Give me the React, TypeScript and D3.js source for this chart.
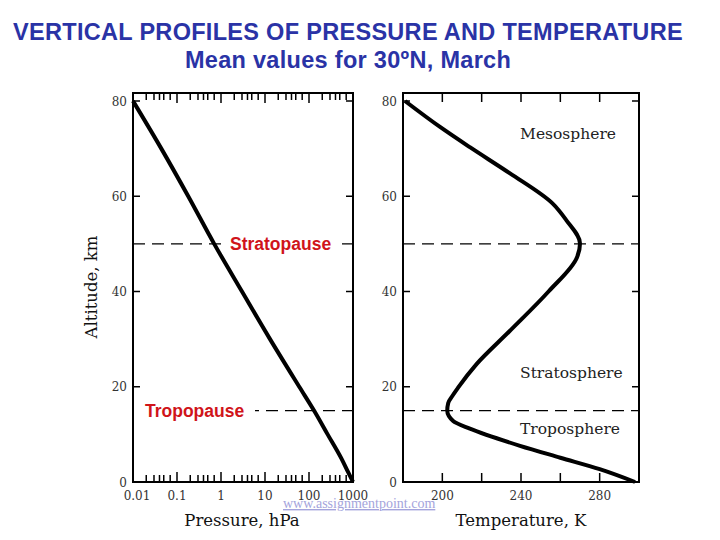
import { curveMonotoneY, line, scaleLinear, scaleLog } from "d3";

// Titles
const titleLine1 = "VERTICAL PROFILES OF PRESSURE AND TEMPERATURE";
const titleLine2 = "Mean values for 30ºN, March";

// Axes
const altTicks = [0, 20, 40, 60, 80];
const pressureTicks = [0.01, 0.1, 1, 10, 100, 1000];
const pressureTickLabels = ["0.01", "0.1", "1", "10", "100", "1000"];
const pressureMinorSteps = [2, 3, 4, 5, 7];
const tempTicks = [200, 220, 240, 260, 280];
const tempLabelTicks = [200, 240, 280];

// Pressure profile (km, hPa)
const pressureAlt = [0, 2, 5, 10, 15, 20, 30, 40, 50, 60, 70, 80];
const pressureHpa = [1000, 780, 540, 265, 130, 60, 13, 3.0, 0.7, 0.18, 0.044, 0.01];

// Temperature profile (km, K)
const tempAlt = [0, 2.7, 5.1, 7.6, 11.2, 12.8, 15, 16.6, 18, 19.8, 24.8, 31.6, 40, 47.2, 50.1, 55, 58.5, 64.8, 70.3, 74.5, 80];
const tempK = [298, 280, 260, 239.5, 214, 205.5, 202.5, 203, 205, 208, 217.5, 234, 254, 268.5, 270, 263, 256, 234.4, 214, 199, 181];

// Pause levels and layer names
const pauseNames = ["Stratopause", "Tropopause"];
const pauseAlt = [50, 15];
const layerNames = ["Mesosphere", "Stratosphere", "Troposphere"];
const layerAlt = [72, 21.8, 10.1];

const BLUE = "#2a33a6";
const RED = "#d0141a";
const SERIF = "'DejaVu Serif', 'Liberation Serif', serif";
const SANS = "'Liberation Sans', Arial, sans-serif";

type Pt = { alt: number; v: number };

export default function App() {
    const width = 720;
    const height = 540;
    const top = 93;
    const bottom = 482;
    const left = { x0: 133, x1: 353 };
    const right = { x0: 403, x1: 639 };

    const y = scaleLinear().domain([0, 80]).range([bottom, 101]);
    const xP = scaleLog().domain([0.01, 1000]).range([left.x0, left.x1]);
    const xT = scaleLinear().domain([180, 300]).range([right.x0, right.x1]);

    const pPts: Pt[] = pressureAlt.map((a, i) => ({ alt: a, v: pressureHpa[i] }));
    const tPts: Pt[] = tempAlt.map((a, i) => ({ alt: a, v: tempK[i] }));

    const pLine = line<Pt>()
        .curve(curveMonotoneY)
        .x((d) => xP(d.v))
        .y((d) => y(d.alt));
    const tLine = line<Pt>()
        .curve(curveMonotoneY)
        .x((d) => xT(d.v))
        .y((d) => y(d.alt));

    const minorP: number[] = [];
    pressureTicks.slice(0, -1).forEach((t) => pressureMinorSteps.forEach((m) => minorP.push(t * m)));

    const tickText = { fontFamily: SERIF, fontSize: 12, fill: "#333" };

    const yAxisTicks = (x0: number, x1: number) =>
        altTicks.map((t) => (
            <g key={`${x0}-${t}`}>
                <line x1={x0} x2={x0 + 7} y1={y(t)} y2={y(t)} stroke="#000" strokeWidth={1.5} />
                <line x1={x1} x2={x1 - 7} y1={y(t)} y2={y(t)} stroke="#000" strokeWidth={1.5} />
                <text x={x0 - 6} y={y(t) + 4.5} textAnchor="end" {...tickText}>
                    {t}
                </text>
            </g>
        ));

    return (
        <div style={{ position: "fixed", left: 0, top: 0, background: "#fff" }}>
            <svg width={width} height={height} viewBox={`0 0 ${width} ${height}`}>
                <rect width={width} height={height} fill="#fff" />

                {/* Title */}
                <text x={348} y={40} textAnchor="middle" fontFamily={SANS} fontWeight="bold" fontSize={23.5} letterSpacing={0.3} fill={BLUE}>
                    {titleLine1}
                </text>
                <text x={348} y={68} textAnchor="middle" fontFamily={SANS} fontWeight="bold" fontSize={23.5} letterSpacing={0.3} fill={BLUE}>
                    {titleLine2}
                </text>

                {/* Dashed pause lines */}
                {pauseAlt.map((a) => (
                    <g key={a}>
                        <line x1={left.x0} x2={left.x1} y1={y(a)} y2={y(a)} stroke="#000" strokeWidth={1.2} strokeDasharray="12 7" />
                        <line x1={right.x0} x2={right.x1} y1={y(a)} y2={y(a)} stroke="#000" strokeWidth={1.2} strokeDasharray="12 7" />
                    </g>
                ))}

                {/* Left panel: pressure */}
                <path d={pLine(pPts) ?? ""} fill="none" stroke="#000" strokeWidth={4} />
                <rect x={left.x0} y={top} width={left.x1 - left.x0} height={bottom - top} fill="none" stroke="#000" strokeWidth={2} />
                {pressureTicks.map((t, i) => (
                    <g key={t}>
                        <line x1={xP(t)} x2={xP(t)} y1={bottom} y2={bottom - 10} stroke="#000" strokeWidth={1.5} />
                        <line x1={xP(t)} x2={xP(t)} y1={top} y2={top + 10} stroke="#000" strokeWidth={1.5} />
                        <text x={xP(t) + (i === 0 ? 4 : 0)} y={500} textAnchor="middle" {...tickText}>
                            {pressureTickLabels[i]}
                        </text>
                    </g>
                ))}
                {minorP.map((t) => (
                    <g key={t}>
                        <line x1={xP(t)} x2={xP(t)} y1={bottom} y2={bottom - 7} stroke="#000" strokeWidth={1.5} />
                        <line x1={xP(t)} x2={xP(t)} y1={top} y2={top + 7} stroke="#000" strokeWidth={1.5} />
                    </g>
                ))}
                {yAxisTicks(left.x0, left.x1)}

                {/* Right panel: temperature */}
                <path d={tLine(tPts) ?? ""} fill="none" stroke="#000" strokeWidth={4} />
                <rect x={right.x0} y={top} width={right.x1 - right.x0} height={bottom - top} fill="none" stroke="#000" strokeWidth={2} />
                {tempTicks.map((t) => (
                    <g key={t}>
                        <line x1={xT(t)} x2={xT(t)} y1={bottom} y2={bottom - 9} stroke="#000" strokeWidth={1.5} />
                        <line x1={xT(t)} x2={xT(t)} y1={top} y2={top + 9} stroke="#000" strokeWidth={1.5} />
                    </g>
                ))}
                {tempLabelTicks.map((t) => (
                    <text key={t} x={xT(t)} y={500} textAnchor="middle" {...tickText}>
                        {t}
                    </text>
                ))}
                {yAxisTicks(right.x0, right.x1)}

                {/* Layer names */}
                {layerNames.map((n, i) => (
                    <text key={n} x={xT(239.5)} y={y(layerAlt[i])} fontFamily={SERIF} fontSize={15.5} fill="#222">
                        {n}
                    </text>
                ))}

                {/* Pause labels */}
                <rect x={222} y={y(pauseAlt[0]) - 10} width={120} height={20} fill="#fff" />
                <text x={230} y={y(pauseAlt[0]) + 6} fontFamily={SANS} fontWeight="bold" fontSize={17.5} fill={RED}>
                    {pauseNames[0]}
                </text>
                <rect x={left.x0 + 1} y={y(pauseAlt[1]) - 10} width={121} height={20} fill="#fff" />
                <text x={145} y={y(pauseAlt[1]) + 6} fontFamily={SANS} fontWeight="bold" fontSize={17.5} fill={RED}>
                    {pauseNames[1]}
                </text>

                {/* Axis titles */}
                <text
                    transform={`translate(97, 287) rotate(-90)`}
                    textAnchor="middle"
                    fontFamily={SERIF}
                    fontSize={16.5}
                    fill="#111"
                >
                    Altitude, km
                </text>
                <text x={242} y={526} textAnchor="middle" fontFamily={SERIF} fontSize={16.5} fill="#111">
                    Pressure, hPa
                </text>
                <text x={521} y={526} textAnchor="middle" fontFamily={SERIF} fontSize={16.5} fill="#111">
                    Temperature, K
                </text>

                {/* Watermark */}
                <text x={283} y={508} fontFamily="'Liberation Serif', serif" fontSize={14} fill="#a4a4dc" textDecoration="underline">
                    www.assignmentpoint.com
                </text>
            </svg>
        </div>
    );
}
